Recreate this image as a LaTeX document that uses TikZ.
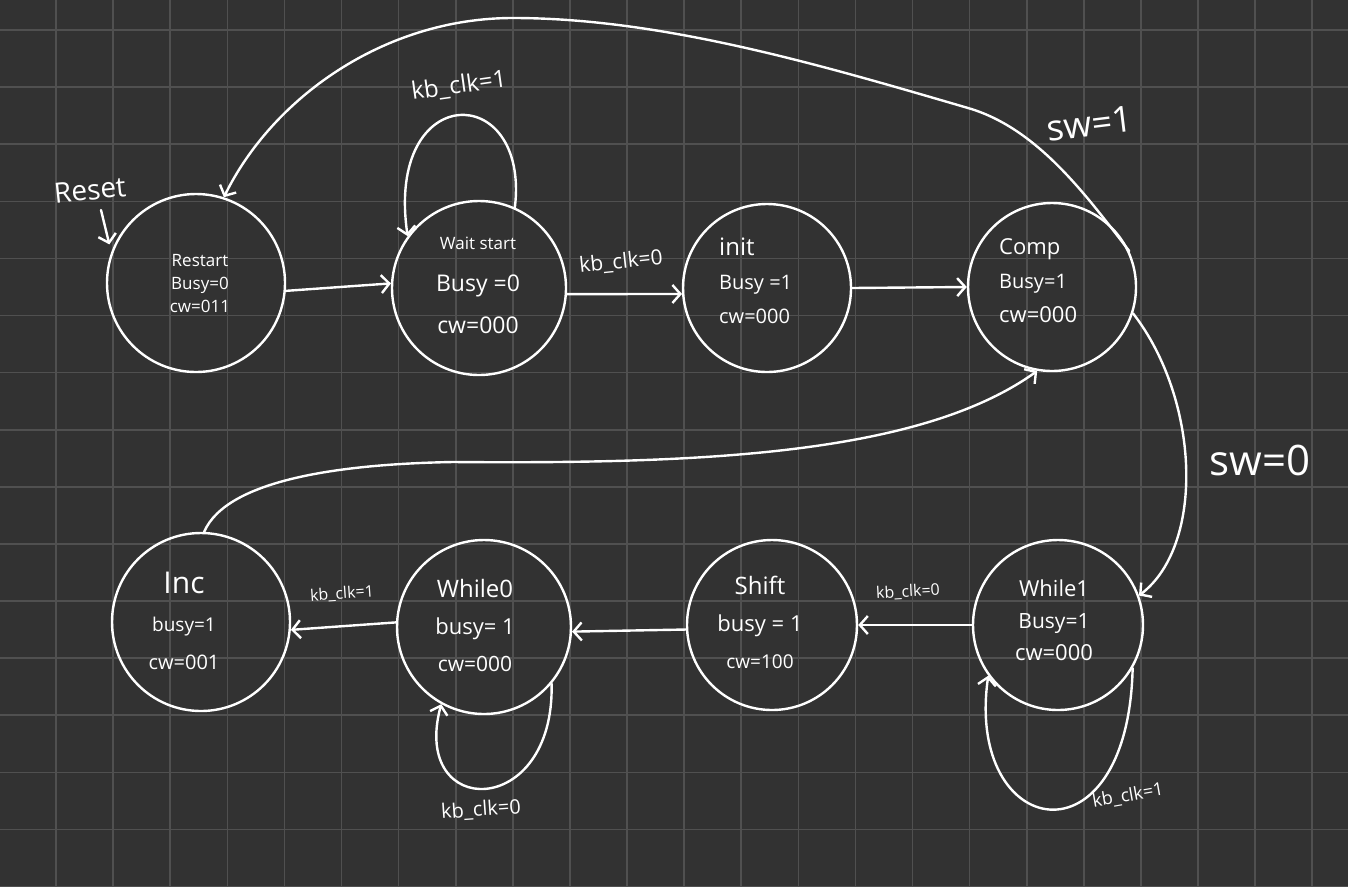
\documentclass[tikz,border=0pt]{standalone}
\usepackage{fontspec}
\setmainfont{Open Sans}
\usetikzlibrary{arrows.meta}
\definecolor{board}{HTML}{323232}
\definecolor{gridgray}{HTML}{505050}
\newcommand\fsz[1]{\fontsize{#1}{#1}\selectfont}

\begin{document}
\begin{tikzpicture}[x=1pt,y=-1pt,>={Straight Barb[length=8pt,width=18pt]},
  chalk/.style={draw=white,line width=2.4pt,line cap=round,line join=round},
  state/.style={circle,draw=white,line width=2.4pt,inner sep=0pt},
  txt/.style={text=white,align=center,inner sep=0pt},
  cond/.style={text=white,inner sep=0pt}]
\useasboundingbox (0,0) rectangle (1348,887);
\fill[board] (0,0) rectangle (1348,887);
% squared paper
\foreach \i in {0,...,22} \draw[gridgray,line width=1.6pt] ({56+57.1*\i},0)--++(0,887);
\foreach \j in {0,...,15} \draw[gridgray,line width=1.6pt] (0,{30+57.1*\j})--++(1348,0);

% states
\node[state,minimum size=178pt] (restart) at (196,283) {};
\node[state,minimum size=174pt] (waitst) at (479,288) {};
\node[state,minimum size=168pt] (init) at (767,288) {};
\node[state,minimum size=168pt] (comp) at (1052,287) {};
\node[state,minimum size=178pt] (inc) at (201,622) {};
\node[state,minimum size=174pt] (wzero) at (484,627) {};
\node[state,minimum size=170pt] (shiftst) at (772,625) {};
\node[state,minimum size=170pt] (wone) at (1058,625) {};

\node[txt,font=\fontsize{17}{23}\selectfont] (restartT) at (200,284) {Restart\\Busy=0\\cw=011};
\node[txt,font=\fontsize{23}{42}\selectfont] (waitT) at (478,285) {{\fsz{17}Wait start}\\Busy =0\\cw=000};
\node[txt,align=left,anchor=west,font=\fontsize{20}{34}\selectfont] (initT) at (719,281) {{\fsz{24}init}\\Busy =1\\cw=000};
\node[txt,align=left,anchor=west,font=\fontsize{20}{34}\selectfont] (compT) at (999,281) {{\fsz{22}Comp}\\Busy=1\\{\fsz{22}cw=000}};
\node[txt,font=\fontsize{20}{38}\selectfont] (incT) at (184,621) {{\fsz{30}Inc}\\{\fsz{19}busy=1}\\cw=001};
\node[txt,font=\fontsize{22}{37}\selectfont] (wzeroT) at (475,625) {{\fsz{24}While0}\\busy= 1\\{\fsz{21}cw=000}};
\node[txt,font=\fontsize{22}{37}\selectfont] (shiftT) at (760,622) {{\fsz{24}Shift}\\busy = 1\\{\fsz{19}cw=100}};
\node[txt,font=\fontsize{21}{32}\selectfont] (woneT) at (1054,620) {{\fsz{22}While1}\\Busy=1\\{\fsz{22}cw=000}};

% transitions
\node[cond,font=\fsz{28},rotate=6] (resetT) at (90,190) {Reset};
\coordinate (resetfoot) at (101,210);
\draw[chalk,->,shorten >=8pt] (resetfoot) -- (restart.160);
\draw[chalk,->] (restart.-5) -- (waitst.177);
\draw[chalk,->] (waitst.66) .. controls (530,80) and (385,80) .. (waitst.144);
\node[cond,font=\fsz{24},rotate=8] (kbWaitLoop) at (459,86) {kb\_clk=1};
\draw[chalk,->] (waitst.-4) -- (init.184);
\node[cond,font=\fsz{21},rotate=6] (kbWaitInit) at (621,262) {kb\_clk=0};
\draw[chalk,->] (init.0) -- (comp.180);
\draw[chalk,->] (comp.25) .. controls (1085,194) and (1037,128) .. (968,108)
  .. controls (824,66) and (663,18) .. (513,18)
  .. controls (383,18) and (272,99) .. (restart.72);
\node[cond,font=\fsz{36},rotate=7] (swOne) at (1090,124) {sw=1};
\draw[chalk,->] (comp.-18) .. controls (1200,400) and (1205,545) .. (wone.20);
\node[cond,font=\fsz{42}] (swZero) at (1260,460) {sw=0};
\draw[chalk,->] (wone.-30) .. controls (1128,870) and (965,840) .. (wone.-144);
\node[cond,font=\fsz{18},rotate=10] (kbOneLoop) at (1128,796) {kb\_clk=1};
\draw[chalk,->] (wone.180) -- (shiftst.0);
\node[cond,font=\fsz{16},rotate=3] (kbOneShift) at (908,592) {kb\_clk=0};
\draw[chalk,->] (shiftst.183) -- (wzero.-3);
\draw[chalk,->] (wzero.-40) .. controls (555,820) and (410,820) .. (wzero.-119);
\node[cond,font=\fsz{20},rotate=4] (kbZeroLoop) at (481,810) {kb\_clk=0};
\draw[chalk,->] (wzero.177) -- (inc.-5);
\node[cond,font=\fsz{16},rotate=4] (kbZeroInc) at (342,594) {kb\_clk=1};
\draw[chalk,->] (inc.88) .. controls (227,479) and (343,464) .. (453,462)
  .. controls (700,464) and (920,455) .. (comp.-100);
\end{tikzpicture}
\end{document}
